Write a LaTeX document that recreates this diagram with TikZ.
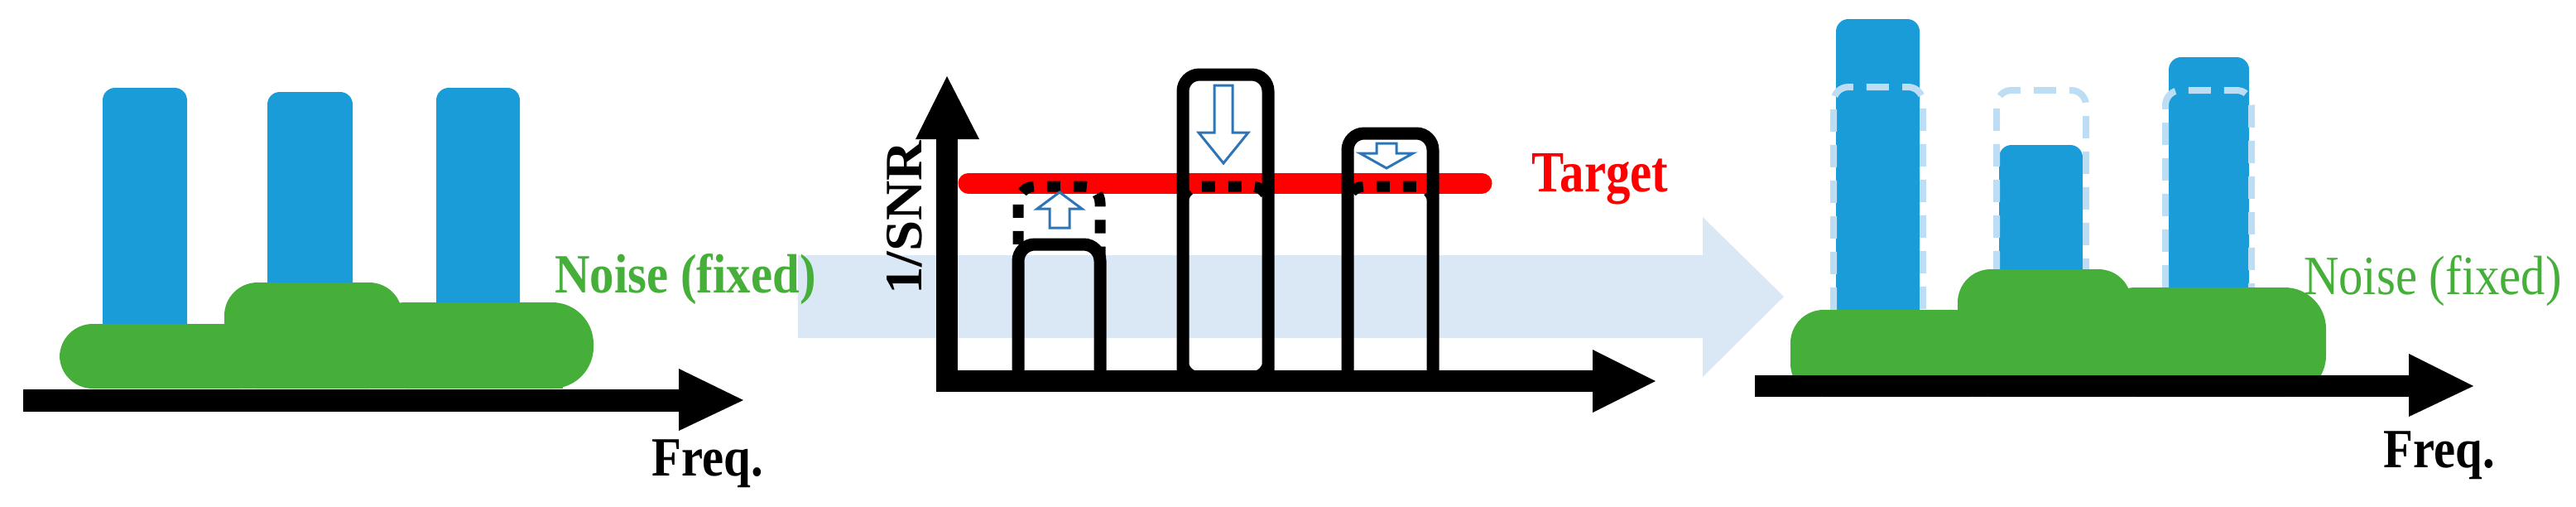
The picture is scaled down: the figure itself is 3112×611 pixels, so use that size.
\documentclass[tikz,border=0pt]{standalone}
\usepackage{fontspec}
\setmainfont{Liberation Serif}

\definecolor{barblue}{rgb}{0.102, 0.612, 0.847}
\definecolor{noisegreen}{rgb}{0.275, 0.686, 0.227}
\definecolor{flowblue}{rgb}{0.855, 0.910, 0.961}
\definecolor{ghostblue}{rgb}{0.741, 0.867, 0.961}
\definecolor{hintblue}{rgb}{0.180, 0.459, 0.714}
\definecolor{targetred}{rgb}{1.000, 0.000, 0.000}

\tikzset{
  lbl/.style={inner sep=0pt, xscale=0.88, font=\fontsize{19}{19}\selectfont},
  bar/.style={fill=barblue, rounded corners=0.15cm},
  noise/.style={fill=noisegreen, rounded corners=0.4cm},
  outl/.style={draw=black, line width=0.15cm, rounded corners=0.2cm},
  goal/.style={draw=black, line width=0.13cm, dash pattern=on 0.16cm off 0.16cm, rounded corners=0.2cm},
  ghost/.style={draw=ghostblue, line width=0.08cm, dash pattern=on 0.27cm off 0.16cm, rounded corners=0.18cm},
  hint/.style={draw=hintblue, fill=white, line width=0.03cm, line join=miter},
}

\begin{document}
\begin{tikzpicture}[x=0.01cm, y=-0.01cm]
\useasboundingbox (0,0) rectangle (3112,611);

% flow arrow
\fill[flowblue] (964,308)--(2057,308)--(2057,262)--(2155,358)--(2057,455)--(2057,408)--(964,408)--cycle;

% left panel
\fill[bar] (124,420) rectangle (226,106);
\fill[bar] (323,420) rectangle (426,111);
\fill[bar] (527,420) rectangle (628,106);
\fill[noise] (72,391) rectangle (330,469);
\fill[noise] (271,341) rectangle (486,469);
\fill[noise, rounded corners=0.5cm] (440,365) rectangle (717,469);
\fill[noisegreen] (110,420) rectangle (680,469);
\fill (28,470) rectangle (820,497);
\fill (820,445)--(898,483)--(820,520)--cycle;
\node[lbl, text=noisegreen, font=\fontsize{19}{19}\selectfont\bfseries] (noiseL) at (828,337) {Noise (fixed)};
\node[lbl, font=\fontsize{19}{19}\selectfont\bfseries] (freqL) at (855,560) {Freq.};

% middle panel
\draw[targetred, line width=0.25cm, line cap=round] (1170,221)--(1790,221);
\draw[outl] (1230,455)--(1230,295)--(1329,295)--(1329,455);
\draw[outl] (1429,455)--(1429,90)--(1532,90)--(1532,455);
\draw[outl] (1628,455)--(1628,161)--(1731,161)--(1731,455);
\draw[goal] (1230,455)--(1230,225)--(1329,225)--(1329,455);
\draw[goal] (1429,455)--(1429,225)--(1532,225)--(1532,455)--cycle;
\draw[goal] (1628,455)--(1628,225)--(1731,225)--(1731,455);
\draw[hint] (1268,275)--(1268,252)--(1253,252)--(1280,232)--(1307,252)--(1292,252)--(1292,275)--cycle;
\draw[hint] (1467,103)--(1467,160)--(1448,160)--(1478,197)--(1508,160)--(1489,160)--(1489,103)--cycle;
\draw[hint] (1663,173)--(1663,185)--(1643,185)--(1675,203)--(1707,185)--(1687,185)--(1687,173)--cycle;
\fill (1131,472) rectangle (1157,168);
\fill (1106,168)--(1144,92)--(1183,168)--cycle;
\fill (1131,447) rectangle (1924,473);
\fill (1924,422)--(2000,460)--(1924,498)--cycle;
\node[lbl, xscale=1.08, rotate=90, font=\fontsize{19}{19}\selectfont\bfseries] (snr) at (1093,263) {1/SNR};
\node[lbl, text=targetred, xscale=0.95, font=\fontsize{20}{20}\selectfont\bfseries] (target) at (1933,216) {Target};

% right panel
\fill[bar] (2218,400) rectangle (2319,23);
\fill[bar] (2415,400) rectangle (2516,175);
\fill[bar] (2620,400) rectangle (2717,69);
\draw[ghost] (2215,374)--(2215,105)--(2323,105)--(2323,374);
\draw[ghost] (2412,330)--(2412,109)--(2520,109)--(2520,330);
\draw[ghost] (2616,347)--(2616,109)--(2720,109)--(2720,347);
\fill[noise] (2163,374) rectangle (2420,479);
\fill[noise] (2365,325) rectangle (2575,479);
\fill[noise, rounded corners=0.5cm] (2530,347) rectangle (2810,479);
\fill[noisegreen] (2200,430) rectangle (2770,479);
\fill (2120,453) rectangle (2910,479);
\fill (2910,427)--(2988,466)--(2910,503)--cycle;
\node[lbl, text=noisegreen] (noiseR) at (2939,339) {Noise (fixed)};
\node[lbl, font=\fontsize{19}{19}\selectfont\bfseries] (freqR) at (2947,550) {Freq.};
\end{tikzpicture}
\end{document}
